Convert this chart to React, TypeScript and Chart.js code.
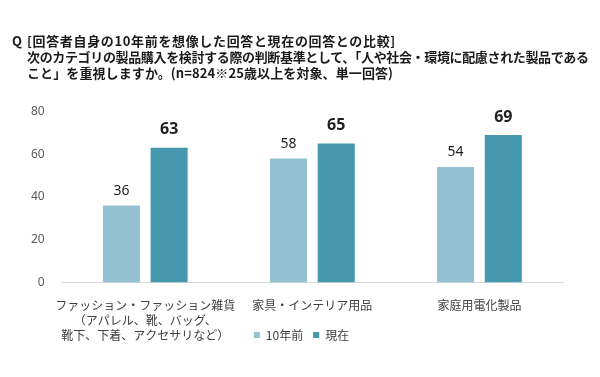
import React, { useEffect, useRef } from "react";
import { Chart, registerables } from "chart.js";

Chart.register(...registerables);

const titleQ = "Q";
const titleLines = [
  "[回答者自身の10年前を想像した回答と現在の回答との比較]",
  "次のカテゴリの製品購入を検討する際の判断基準として、「人や社会・環境に配慮された製品である",
  "こと」を重視しますか。(n=824※25歳以上を対象、単一回答)",
];

const categories: string[][] = [
  ["ファッション・ファッション雑貨", "（アパレル、靴、バッグ、", "靴下、下着、アクセサリなど）"],
  ["家具・インテリア用品"],
  ["家庭用電化製品"],
];

const seriesNames = ["10年前", "現在"];
const before10: number[] = [36, 58, 54];
const now: number[] = [63, 65, 69];
const yTicks: number[] = [0, 20, 40, 60, 80];

const colors = ["#93c1d2", "#4598ae"];

const valueLabels = {
  id: "valueLabels",
  afterDatasetsDraw(chart: any) {
    const ctx = chart.ctx;
    chart.data.datasets.forEach((ds: any, di: number) => {
      const meta = chart.getDatasetMeta(di);
      meta.data.forEach((bar: any, i: number) => {
        ctx.save();
        ctx.fillStyle = "#1f1f1f";
        ctx.textAlign = "center";
        ctx.textBaseline = "middle";
        if (di === 0) {
          ctx.font = "normal 14px 'Noto Sans', sans-serif";
          ctx.fillText(String(ds.data[i]), bar.x, bar.y - 15);
        } else {
          ctx.font = "bold 16px 'Noto Sans', sans-serif";
          ctx.fillText(String(ds.data[i]), bar.x, bar.y - 18);
        }
        ctx.restore();
      });
    });
  },
};

// Lift the legend up so it sits beside the multi-line category label, as in the reference.
const legendMover = {
  id: "legendMover",
  afterLayout(chart: any) {
    const lg = chart.legend;
    if (!lg) return;
    const h = lg.bottom - lg.top;
    lg.top = 319;
    lg.bottom = 319 + h;
    lg.left += 13;
    lg.right += 13;
  },
};

export default function App() {
  const ref = useRef<HTMLCanvasElement>(null);

  useEffect(() => {
    if (!ref.current) return;
    const chart = new Chart(ref.current, {
      type: "bar",
      data: {
        labels: categories,
        datasets: [
          {
            label: seriesNames[0],
            data: before10,
            backgroundColor: colors[0],
            categoryPercentage: 0.571,
            barPercentage: 0.776,
          },
          {
            label: seriesNames[1],
            data: now,
            backgroundColor: colors[1],
            categoryPercentage: 0.571,
            barPercentage: 0.776,
          },
        ],
      },
      options: {
        responsive: false,
        animation: false,
        devicePixelRatio: 1,
        layout: { padding: { top: 111.5, left: 14, right: 37, bottom: 0.5 } },
        plugins: {
          tooltip: { enabled: false },
          legend: {
            position: "bottom",
            labels: {
              boxWidth: 6,
              boxHeight: 6,
              padding: 10,
              color: "#404040",
              font: { size: 12, family: "'Noto Sans CJK JP', sans-serif" },
            },
          },
        },
        scales: {
          x: {
            grid: { display: false, drawTicks: false },
            border: { display: true, color: "#d9d9d9", width: 1 },
            ticks: {
              color: "#404040",
              font: { size: 12, family: "'Noto Sans CJK JP', sans-serif", lineHeight: 1.25 },
              padding: 15,
              maxRotation: 0,
              autoSkip: false,
            },
            afterFit(scale: any) {
              scale.height = 62;
            },
          },
          y: {
            min: 0,
            max: 80,
            grid: { display: false, drawTicks: false },
            border: { display: false },
            afterBuildTicks(scale: any) {
              scale.ticks = yTicks.map((v) => ({ value: v }));
            },
            ticks: {
              color: "#595959",
              padding: 17,
              font: { size: 12, family: "'Noto Sans', sans-serif" },
            },
          },
        },
      },
      plugins: [valueLabels, legendMover],
    });
    return () => chart.destroy();
  }, []);

  const titleStyle: React.CSSProperties = {
    position: "absolute",
    top: 32.5,
    fontFamily: "'Noto Sans CJK JP', sans-serif",
    fontWeight: 700,
    fontSize: 13,
    lineHeight: "16px",
    color: "#1a1a1a",
    whiteSpace: "nowrap",
  };

  return (
    <div style={{ position: "fixed", left: 0, top: 0, width: 600, height: 377, background: "#fff" }}>
      <canvas ref={ref} width={600} height={377} style={{ position: "absolute", left: 0, top: 0 }} />
      <div style={{ ...titleStyle, left: 12 }}>{titleQ}</div>
      <div style={{ ...titleStyle, left: 27 }}>
        <div style={{ letterSpacing: 0.65 }}>{titleLines[0]}</div>
        <div style={{ letterSpacing: -0.35 }}>{titleLines[1]}</div>
        <div style={{ letterSpacing: 0.1 }}>{titleLines[2]}</div>
      </div>
    </div>
  );
}
